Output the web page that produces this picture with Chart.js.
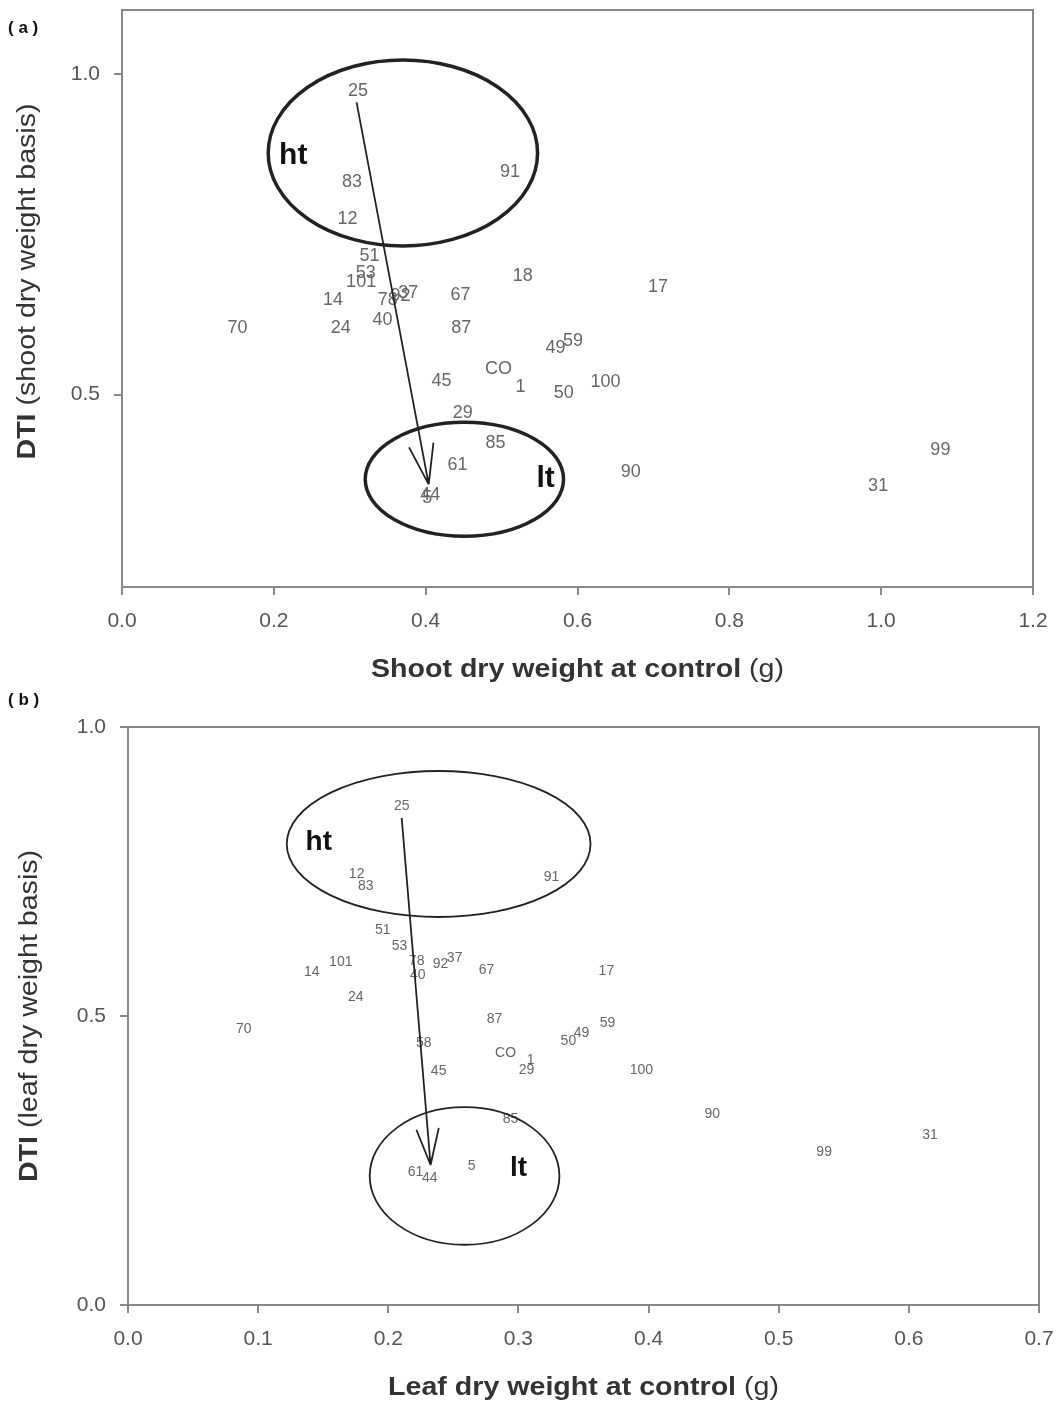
<!DOCTYPE html>
<html>
<head>
<meta charset="utf-8">
<script src="https://cdn.jsdelivr.net/npm/chart.js@4.4.1/dist/chart.umd.min.js"></script>
<style>
  html, body { margin: 0; padding: 0; background: #fff; }
  .panel { position: relative; width: 1056px; }
  .tag { position: absolute; left: 8px; font: bold 17px "Liberation Sans", Arial, sans-serif; color: #111; }
  canvas { display: block; }
</style>
</head>
<body>
<div class="panel" style="height:690px">
  <div class="tag" style="top:18px">( a )</div>
  <canvas id="chartA" width="1056" height="690"></canvas>
</div>
<div class="panel" style="height:715px">
  <div class="tag" style="top:0px">( b )</div>
  <canvas id="chartB" width="1056" height="715"></canvas>
</div>
<script>
// panel (a): shoot dry weight
const codesA = ["25","91","83","12","51","53","101","18","17","14","78","92","37","67","70","24","40","87","49","59","CO","45","1","50","100","29","85","61","90","44","5","99","31"];
const shootX = [0.311,0.511,0.303,0.297,0.326,0.321,0.315,0.528,0.706,0.278,0.350,0.367,0.377,0.446,0.152,0.288,0.343,0.447,0.571,0.594,0.496,0.421,0.525,0.582,0.637,0.449,0.492,0.442,0.670,0.406,0.402,1.078,0.996];
const shootY = [0.974,0.847,0.832,0.774,0.717,0.690,0.676,0.685,0.668,0.648,0.648,0.654,0.659,0.656,0.604,0.604,0.617,0.604,0.573,0.584,0.540,0.522,0.512,0.502,0.519,0.472,0.424,0.391,0.380,0.344,0.338,0.413,0.358];
const xTicksA = [0, 0.2, 0.4, 0.6, 0.8, 1.0, 1.2];
const yTicksA = [0.5, 1.0];

// panel (b): leaf dry weight
const codesB = ["25","12","83","91","51","53","101","14","78","92","37","40","67","17","24","70","87","59","49","50","58","CO","1","29","45","100","85","90","31","99","61","44","5"];
const leafX = [0.2103,0.1757,0.1827,0.3254,0.1957,0.2087,0.1635,0.1412,0.2218,0.2402,0.251,0.2226,0.2755,0.3676,0.175,0.089,0.2817,0.3684,0.3484,0.3384,0.2272,0.2901,0.3093,0.3062,0.2387,0.3945,0.2939,0.449,0.6163,0.5349,0.221,0.2318,0.264];
const leafY = [0.863,0.746,0.725,0.740,0.649,0.621,0.593,0.576,0.595,0.590,0.600,0.571,0.580,0.578,0.533,0.4775,0.495,0.488,0.4706,0.457,0.453,0.436,0.424,0.407,0.405,0.407,0.322,0.330,0.294,0.265,0.230,0.220,0.240];
const xTicksB = [0, 0.1, 0.2, 0.3, 0.4, 0.5, 0.6, 0.7];
const yTicksB = [0, 0.5, 1.0];

const FONT = '"Liberation Sans", Arial, sans-serif';

// draws code labels, frame, ellipses, arrow and axis titles
const drawPlugin = {
  id: 'drawPlugin',
  afterDatasetsDraw(chart) {
    const o = chart.options.plugins.drawPlugin;
    const ctx = chart.ctx, xs = chart.scales.x, ys = chart.scales.y, a = chart.chartArea;
    ctx.save();
    // frame
    ctx.strokeStyle = '#888';
    ctx.lineWidth = 2;
    ctx.strokeRect(a.left, a.top, a.right - a.left, a.bottom - a.top);

    // code labels
    ctx.fillStyle = '#666';
    ctx.font = o.labelSize + 'px ' + FONT;
    ctx.textAlign = 'center';
    ctx.textBaseline = 'middle';
    const ds = chart.data.datasets[0];
    ds.data.forEach((p, i) => {
      ctx.fillText(ds.codes[i], xs.getPixelForValue(p.x), ys.getPixelForValue(p.y));
    });

    // ellipses
    ctx.strokeStyle = '#222';
    ctx.lineWidth = o.ellipseWidth;
    o.ellipses.forEach(e => {
      const cx = xs.getPixelForValue(e.cx), cy = ys.getPixelForValue(e.cy);
      const rx = xs.getPixelForValue(e.cx + e.rx) - cx;
      const ry = cy - ys.getPixelForValue(e.cy + e.ry);
      ctx.beginPath();
      ctx.ellipse(cx, cy, rx, ry, 0, 0, Math.PI * 2);
      ctx.stroke();
    });

    // ht / lt
    ctx.fillStyle = '#111';
    ctx.font = 'bold ' + o.tagSize + 'px ' + FONT;
    o.tags.forEach(t => ctx.fillText(t.text, xs.getPixelForValue(t.x), ys.getPixelForValue(t.y)));

    // arrow
    const ar = o.arrow;
    const x0 = xs.getPixelForValue(ar.x0), y0 = ys.getPixelForValue(ar.y0);
    const x1 = xs.getPixelForValue(ar.x1), y1 = ys.getPixelForValue(ar.y1);
    const ang = Math.atan2(y1 - y0, x1 - x0);
    ctx.strokeStyle = '#222';
    ctx.lineWidth = 1.8;
    ctx.beginPath();
    ctx.moveTo(x0, y0); ctx.lineTo(x1, y1);
    [-0.3, 0.3].forEach(d => {
      ctx.moveTo(x1, y1);
      ctx.lineTo(x1 - ar.head * Math.cos(ang + d), y1 - ar.head * Math.sin(ang + d));
    });
    ctx.stroke();

    // axis titles, bold + regular parts, slightly wide like the source
    ctx.fillStyle = '#333';
    ctx.textBaseline = 'middle';
    ctx.textAlign = 'left';
    const drawMixed = (parts, cx, cy) => {
      const widths = parts.map(p => { ctx.font = p.f; return ctx.measureText(p.t).width; });
      let x = -widths.reduce((s, w) => s + w, 0) / 2;
      ctx.save();
      ctx.translate(cx, cy);
      ctx.scale(1.1, 1);
      parts.forEach((p, i) => { ctx.font = p.f; ctx.fillText(p.t, x, 0); x += widths[i]; });
      ctx.restore();
    };
    const bold = 'bold ' + o.titleSize + 'px ' + FONT, reg = o.titleSize + 'px ' + FONT;
    drawMixed([{ t: o.xTitle[0], f: bold }, { t: o.xTitle[1], f: reg }], (a.left + a.right) / 2, a.bottom + 83);
    ctx.save();
    ctx.translate(o.yTitleX, (a.top + a.bottom) / 2 + o.yTitleShift);
    ctx.rotate(-Math.PI / 2);
    drawMixed([{ t: o.yTitle[0], f: bold }, { t: o.yTitle[1], f: reg }], 0, 0);
    ctx.restore();
    ctx.restore();
  }
};

function makeChart(id, codes, xs, ys, xTicks, yTicks, opts) {
  return new Chart(document.getElementById(id), {
    type: 'scatter',
    data: {
      datasets: [{
        data: xs.map((x, i) => ({ x, y: ys[i] })),
        codes,
        pointRadius: 0,
        pointHoverRadius: 0
      }]
    },
    options: {
      responsive: false,
      animation: false,
      layout: { padding: opts.padding },
      plugins: {
        legend: { display: false },
        tooltip: { enabled: false },
        drawPlugin: opts.draw
      },
      scales: {
        x: {
          type: 'linear', min: xTicks[0], max: xTicks[xTicks.length - 1],
          afterBuildTicks: s => { s.ticks = xTicks.map(v => ({ value: v })); },
          afterFit: s => { s.height = opts.xHeight; s.paddingLeft = 0; s.paddingRight = 0; },
          ticks: { color: '#555', padding: 14, font: { family: FONT, size: 21 }, callback: v => v.toFixed(1) },
          grid: { display: true, drawOnChartArea: false, drawTicks: true, tickLength: 8, color: '#888', lineWidth: 2 },
          border: { display: true, color: '#888', width: 2 }
        },
        y: {
          type: 'linear', min: opts.yMin, max: opts.yMax,
          afterBuildTicks: s => { s.ticks = yTicks.map(v => ({ value: v })); },
          afterFit: s => { s.width = opts.yWidth; s.paddingTop = 0; s.paddingBottom = 0; },
          ticks: { color: '#555', padding: 14, font: { family: FONT, size: 21 }, callback: v => v.toFixed(1) },
          grid: { display: true, drawOnChartArea: false, drawTicks: true, tickLength: 8, color: '#888', lineWidth: 2 },
          border: { display: true, color: '#888', width: 2 }
        }
      }
    },
    plugins: [drawPlugin]
  });
}

makeChart('chartA', codesA, shootX, shootY, xTicksA, yTicksA, {
  padding: { top: 10, right: 23, left: 0, bottom: 0 },
  xHeight: 103, yWidth: 122, yMin: 0.2, yMax: 1.1,
  draw: {
    labelSize: 18, tagSize: 30, ellipseWidth: 3.5, titleSize: 26,
    ellipses: [
      { cx: 0.370, cy: 0.877, rx: 0.1774, ry: 0.145 },
      { cx: 0.451, cy: 0.368, rx: 0.1306, ry: 0.0888 }
    ],
    tags: [{ text: 'ht', x: 0.2256, y: 0.872 }, { text: 'lt', x: 0.558, y: 0.369 }],
    arrow: { x0: 0.309, y0: 0.956, x1: 0.404, y1: 0.360, head: 42 },
    xTitle: ['Shoot dry weight at control ', '(g)'],
    yTitle: ['DTI ', '(shoot dry weight basis)'],
    yTitleX: 28, yTitleShift: -17
  }
});

makeChart('chartB', codesB, leafX, leafY, xTicksB, yTicksB, {
  padding: { top: 37, right: 17, left: 0, bottom: 0 },
  xHeight: 100, yWidth: 128, yMin: 0, yMax: 1,
  draw: {
    labelSize: 14, tagSize: 28, ellipseWidth: 1.8, titleSize: 26,
    ellipses: [
      { cx: 0.2387, cy: 0.7976, rx: 0.1167, ry: 0.1263 },
      { cx: 0.2586, cy: 0.2232, rx: 0.0729, ry: 0.119 }
    ],
    tags: [{ text: 'ht', x: 0.1466, y: 0.801 }, { text: 'lt', x: 0.300, y: 0.237 }],
    arrow: { x0: 0.2103, y0: 0.8426, x1: 0.2325, y1: 0.2422, head: 38 },
    xTitle: ['Leaf dry weight at control ', '(g)'],
    yTitle: ['DTI ', '(leaf dry weight basis)'],
    yTitleX: 30, yTitleShift: 0
  }
});
</script>
</body>
</html>
